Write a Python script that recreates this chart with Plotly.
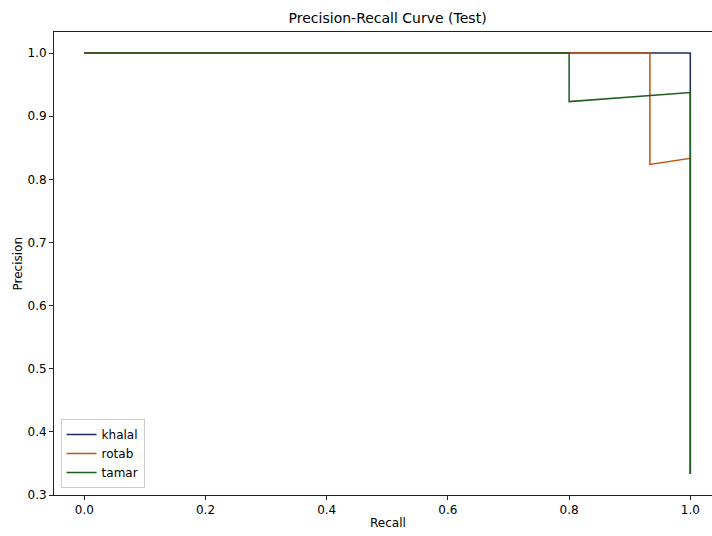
import plotly.graph_objects as go

# Data
khalal_recall = [0.0, 1.0, 1.0, 1.0]
khalal_precision = [1.0, 1.0, 0.9375, 0.3333]

rotab_recall = [0.0, 0.9333, 0.9333, 1.0, 1.0]
rotab_precision = [1.0, 1.0, 0.8235, 0.8333, 0.3333]

tamar_recall = [0.0, 0.8, 0.8, 1.0, 1.0]
tamar_precision = [1.0, 1.0, 0.9231, 0.9375, 0.3333]

series = [
    ("khalal", khalal_recall, khalal_precision, "#1c2b5e"),
    ("rotab", rotab_recall, rotab_precision, "#c4520f"),
    ("tamar", tamar_recall, tamar_precision, "#1e5e1e"),
]

x_ticks = [0.0, 0.2, 0.4, 0.6, 0.8, 1.0]
y_ticks = [0.3, 0.4, 0.5, 0.6, 0.7, 0.8, 0.9, 1.0]

fig = go.Figure()
for name, rx, py, color in series:
    fig.add_trace(go.Scatter(x=rx, y=py, mode="lines", name=name,
                             line=dict(color=color, width=1.5)))

W, H = 712, 536
L, T, B = 54, 32, 41
font = "DejaVu Sans"

fig.update_layout(
    width=W, height=H,
    margin=dict(l=L, r=0, t=T, b=B, pad=0),
    paper_bgcolor="white", plot_bgcolor="white",
    font=dict(family=font, size=12, color="#000"),
    showlegend=True,
    legend=dict(x=0.01, y=0.015, xanchor="left", yanchor="bottom",
                bordercolor="#cccccc", borderwidth=1, bgcolor="white",
                font=dict(family=font, size=12, color="#000"),
                itemwidth=30, tracegroupgap=0),
    xaxis=dict(range=[-0.05, 1.0358], tickvals=x_ticks, tickformat=".1f",
               showgrid=False, zeroline=False, showline=True, linecolor="#222",
               linewidth=1, mirror=True, ticks="outside", ticklen=4,
               tickcolor="#222", tickfont=dict(size=12)),
    yaxis=dict(range=[0.3, 1.0333], tickvals=y_ticks, tickformat=".1f",
               showgrid=False, zeroline=False, showline=True, linecolor="#222",
               linewidth=1, mirror=False, ticks="outside", ticklen=4,
               tickcolor="#222", tickfont=dict(size=12)),
    title=dict(text="Precision-Recall Curve (Test)", x=0.507, xref="paper",
               xanchor="center", y=1 - 18 / H, yref="container", yanchor="middle",
               font=dict(family=font, size=14, color="#000")),
    annotations=[
        dict(text="Recall", xref="paper", yref="paper", x=0.507,
             y=-(523 - (H - B)) / (H - T - B), xanchor="center", yanchor="middle",
             showarrow=False, font=dict(family=font, size=12, color="#000")),
        dict(text="Precision", xref="paper", yref="paper", x=-(L - 17) / (W - L),
             y=0.5, xanchor="center", yanchor="middle", textangle=-90,
             showarrow=False, font=dict(family=font, size=12, color="#000")),
    ],
)

fig.write_html("out.html")
